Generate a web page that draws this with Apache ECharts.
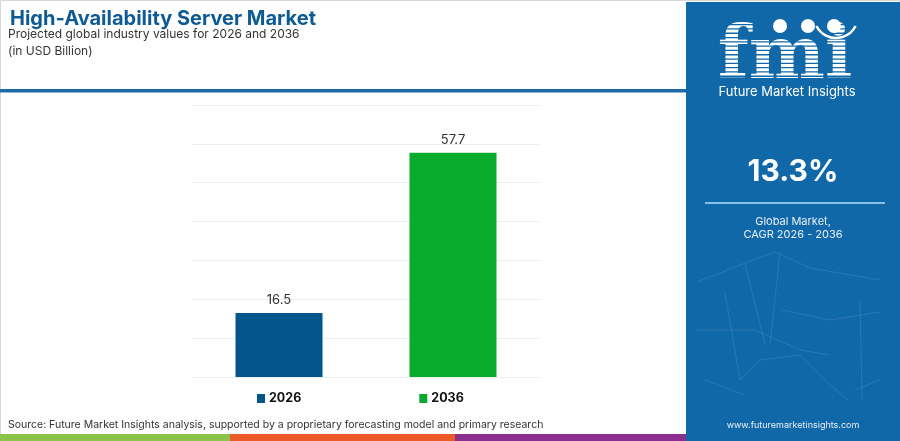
<!DOCTYPE html>
<html><head><meta charset="utf-8">
<script src="https://cdn.jsdelivr.net/npm/echarts@6/dist/echarts.min.js"></script>
<style>html,body{margin:0;padding:0;background:#fff}#c{width:900px;height:441px}</style>
</head><body><div id="c"></div>
<script>
const categories = ['2026', '2036'];
const values2026 = [16.5, '-'];
const values2036 = ['-', 57.7];
const cagrText = '13.3%';
const yMin = 0, yMax = 70, yInterval = 10;

const chart = echarts.init(document.getElementById('c'), null, {renderer: 'canvas'});
const F = 'Inter, "Open Sans", sans-serif';
const panel = '#1168a8';

// decorative network lines in panel
const net = [
 [697,282,745,263],[745,263,775,252],[775,252,810,268],[810,268,880,280],[697,330,755,330],[755,330,800,350],[800,350,830,355],
 [740,380,760,360],[760,360,800,355],[800,355,830,385],[830,385,848,400],[860,300,862,400],[725,293,740,380],[745,263,765,345],
 [705,380,744,395],[782,310,830,320],[830,320,880,312],[855,390,880,380],[780,252,770,345]
];
const netGraphics = net.map(a => ({type:'line', shape:{x1:a[0],y1:a[1],x2:a[2],y2:a[3]}, style:{stroke:'rgba(255,255,255,0.10)', lineWidth:1}, silent:true}));

// stripes over logo
const stripes = [];
for (let y = 24; y < 78; y += 4.3) stripes.push({type:'rect', shape:{x:715,y:y,width:140,height:1.3}, style:{fill:panel}, z:12, silent:true});

chart.setOption({
  animation: false,
  textStyle: {fontFamily: F},
  grid: {left: 192, right: 360, top: 105, bottom: 64},
  xAxis: {type: 'category', data: categories, axisLine: {show: false}, axisTick: {show: false}, axisLabel: {show: false}},
  yAxis: {type: 'value', min: yMin, max: yMax, interval: yInterval, axisLabel: {show: false}, axisLine: {show: false}, axisTick: {show: false},
          splitLine: {lineStyle: {color: '#eeeeee', width: 1}}},
  legend: {left: 252, top: 387, itemWidth: 8, itemHeight: 9, itemGap: 118, icon: 'rect',
           textStyle: {fontFamily: F, fontWeight: 'bold', fontSize: 12.5, color: '#111', padding: [0,0,0,-1]},
           data: ['2026', '2036']},
  series: [
    {name: '2026', type: 'bar', data: values2026, barWidth: '50%', barGap: '-100%', itemStyle: {color: '#03568c'},
     label: {show: true, position: 'top', distance: 6, color: '#333', fontSize: 13, fontFamily: F}},
    {name: '2036', type: 'bar', data: values2036, barWidth: '50%', itemStyle: {color: '#08ab2c'},
     label: {show: true, position: 'top', distance: 6, color: '#333', fontSize: 13, fontFamily: F}}
  ],
  graphic: [
    {type:'rect', shape:{x:0.5,y:0.5,width:899,height:440}, style:{fill:'none', stroke:'#d8d8d8', lineWidth:1}, z:-1, silent:true},
    {type:'text', left: 10, top: 9, style:{text:'High-Availability Server Market', fill:'#0e5a94', font:'bold 20px ' + F}},
    {type:'text', left: 8, top: 28, style:{text:'Projected global industry values for 2026 and 2036', fill:'#333', font:'12px ' + F}},
    {type:'text', left: 8, top: 45, style:{text:'(in USD Billion)', fill:'#333', font:'12px ' + F}},
    {type:'rect', shape:{x:0,y:89,width:686,height:3.5}, style:{fill:'#1c6aa6'}, silent:true},
    {type:'rect', shape:{x:0,y:434,width:230,height:7}, style:{fill:'#8bc34a'}, silent:true},
    {type:'rect', shape:{x:230,y:434,width:225,height:7}, style:{fill:'#ec5a2a'}, silent:true},
    {type:'rect', shape:{x:455,y:434,width:231,height:7}, style:{fill:'#8a2f8d'}, silent:true},
    {type:'text', left: 8, top: 419, style:{text:'Source: Future Market Insights analysis, supported by a proprietary forecasting model and primary research', fill:'#333', font:'10.5px ' + F}},
    {type:'rect', shape:{x:686,y:2,width:214,height:439}, style:{fill:panel}, silent:true},
    ...netGraphics,
    {type:'text', x: 785, y: 95, style:{text:'fmi', fill:'#fff', font:'bold 72px "DejaVu Serif", serif', align:'center', verticalAlign:'bottom'}, z:11},
    ...stripes,
    {type:'circle', shape:{cx:780,cy:26,r:7}, style:{fill:'#fff'}, z:13},
    {type:'circle', shape:{cx:808,cy:26,r:7}, style:{fill:'#fff'}, z:13},
    {type:'circle', shape:{cx:834,cy:26,r:7}, style:{fill:'#fff'}, z:13},
    {type:'arc', shape:{cx:836,cy:16,r:22,startAngle:Math.PI*0.15,endAngle:Math.PI*0.85}, style:{stroke:'#fff', lineWidth:2.5, fill:'none'}, z:13},
    {type:'text', x: 787, y: 92, style:{text:'Future Market Insights', fill:'#fff', font:'13px ' + F, align:'center', verticalAlign:'middle'}, z:13},
    {type:'text', x: 793, y: 172, style:{text: cagrText, fill:'#fff', font:'bold 30px ' + F, align:'center', verticalAlign:'middle'}},
    {type:'rect', shape:{x:705,y:202,width:180,height:2}, style:{fill:'#86bfe8'}},
    {type:'text', x: 793, y: 222, style:{text:'Global Market,', fill:'#e8f1f8', font:'11px ' + F, align:'center', verticalAlign:'middle'}},
    {type:'text', x: 793, y: 235, style:{text:'CAGR 2026 - 2036', fill:'#e8f1f8', font:'11px ' + F, align:'center', verticalAlign:'middle'}},
    {type:'text', x: 793, y: 425, style:{text:'www.futuremarketinsights.com', fill:'#e8f1f8', font:'9px ' + F, align:'center', verticalAlign:'middle'}}
  ]
});
</script></body></html>
